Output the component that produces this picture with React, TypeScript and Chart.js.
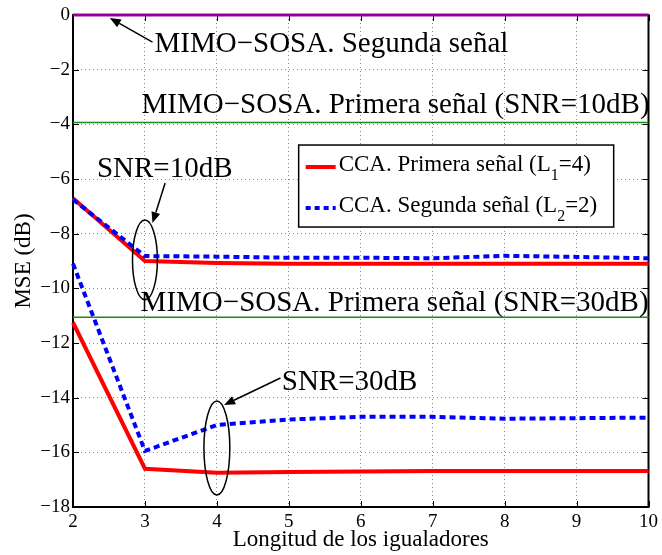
import React, { useEffect, useRef } from "react";
import { Chart, registerables } from "chart.js";

Chart.register(...registerables);

// Equalizer length (x) and MSE in dB (y)
const equalizerLengths = [2, 3, 4, 5, 6, 7, 8, 9, 10];
const ccaFirst10dB = [-6.7, -9.0, -9.07, -9.1, -9.1, -9.1, -9.1, -9.1, -9.1];
const ccaSecond10dB = [-6.75, -8.82, -8.84, -8.88, -8.88, -8.9, -8.81, -8.85, -8.9];
const ccaFirst30dB = [-11.25, -16.6, -16.75, -16.72, -16.7, -16.68, -16.68, -16.68, -16.68];
const ccaSecond30dB = [-9.1, -15.95, -15.0, -14.8, -14.7, -14.7, -14.77, -14.75, -14.73];
const mimoSosaSecond = 0;
const mimoSosaFirst10dB = -3.93;
const mimoSosaFirst30dB = -11.06;

const xTicks = [2, 3, 4, 5, 6, 7, 8, 9, 10];
const yTicks = [0, -2, -4, -6, -8, -10, -12, -14, -16, -18];

const legendLabels = [
  { main: "CCA. Primera señal (L", sub: "1", tail: "=4)" },
  { main: "CCA. Segunda señal (L", sub: "2", tail: "=2)" },
];

// Text notes, anchored at their left baseline in data units
const textNotes = [
  { text: "MIMO\u2212SOSA. Segunda señal", x: 3.133, y: -1.354 },
  { text: "MIMO\u2212SOSA. Primera señal (SNR=10dB)", x: 2.953, y: -3.586 },
  { text: "MIMO\u2212SOSA. Primera señal (SNR=30dB)", x: 2.94, y: -10.83 },
  { text: "SNR=10dB", x: 2.332, y: -5.93 },
  { text: "SNR=30dB", x: 4.902, y: -13.72 },
];

const arrows = [
  { x0: 3.105, y0: -0.99, x1: 2.511, y1: -0.11 },
  { x0: 3.281, y0: -6.15, x1: 3.105, y1: -7.61 },
  { x0: 4.884, y0: -13.28, x1: 4.1, y1: -14.27 },
];

const ellipses = [
  { x: 3, y: -8.96, rx: 0.173, ry: 1.46 },
  { x: 4, y: -15.84, rx: 0.18, ry: 1.72 },
];

// Legend box corners in data units
const legendBox = { x0: 5.137, y0: -4.757, x1: 9.516, y1: -7.757 };

const SERIF = '"Liberation Serif", "Times New Roman", serif';
const RED = "#ff0000";
const BLUE = "#0000ff";
const GREEN = "#1a8c1a";
const PURPLE = "#990099";

const toPoints = (ys: number[]) => equalizerLengths.map((x, i) => ({ x, y: ys[i] }));
const flat = (v: number) => equalizerLengths.map((x) => ({ x, y: v }));

const decorations = {
  id: "decorations",
  beforeDatasetsDraw(chart: any) {
    const { ctx, chartArea: a, scales } = chart;
    const xs = scales.x;
    const ys = scales.y;
    ctx.save();
    // inner tick marks
    ctx.strokeStyle = "#000";
    ctx.lineWidth = 1;
    const tl = 6;
    ctx.beginPath();
    xTicks.forEach((v) => {
      const px = Math.round(xs.getPixelForValue(v)) + 0.5;
      ctx.moveTo(px, a.bottom);
      ctx.lineTo(px, a.bottom - tl);
      ctx.moveTo(px, a.top);
      ctx.lineTo(px, a.top + tl);
    });
    yTicks.forEach((v) => {
      const py = Math.round(ys.getPixelForValue(v)) + 0.5;
      ctx.moveTo(a.left, py);
      ctx.lineTo(a.left + tl, py);
      ctx.moveTo(a.right, py);
      ctx.lineTo(a.right - tl, py);
    });
    ctx.stroke();
    // axes box
    ctx.lineWidth = 2;
    ctx.strokeRect(a.left, a.top, a.right - a.left, a.bottom - a.top);
    ctx.restore();
  },
  afterDatasetsDraw(chart: any) {
    const { ctx, scales } = chart;
    const xs = scales.x;
    const ys = scales.y;
    const X = (v: number) => xs.getPixelForValue(v);
    const Y = (v: number) => ys.getPixelForValue(v);
    ctx.save();
    ctx.fillStyle = "#000";
    ctx.strokeStyle = "#000";

    // ellipses
    ctx.lineWidth = 1.5;
    ellipses.forEach((e) => {
      const cx = X(e.x);
      const cy = Y(e.y);
      const rx = Math.abs(X(e.x + e.rx) - cx);
      const ry = Math.abs(Y(e.y + e.ry) - cy);
      ctx.beginPath();
      ctx.ellipse(cx, cy, rx, ry, 0, 0, Math.PI * 2);
      ctx.stroke();
    });

    // arrows
    arrows.forEach((ar) => {
      const x0 = X(ar.x0), y0 = Y(ar.y0), x1 = X(ar.x1), y1 = Y(ar.y1);
      const ang = Math.atan2(y1 - y0, x1 - x0);
      const hl = 11, hw = 4.5;
      const bx = x1 - hl * Math.cos(ang);
      const by = y1 - hl * Math.sin(ang);
      ctx.lineWidth = 1.5;
      ctx.beginPath();
      ctx.moveTo(x0, y0);
      ctx.lineTo(bx, by);
      ctx.stroke();
      ctx.beginPath();
      ctx.moveTo(x1, y1);
      ctx.lineTo(bx + hw * Math.sin(ang), by - hw * Math.cos(ang));
      ctx.lineTo(bx - hw * Math.sin(ang), by + hw * Math.cos(ang));
      ctx.closePath();
      ctx.fill();
    });

    // text notes
    ctx.font = `29px ${SERIF}`;
    ctx.textAlign = "left";
    ctx.textBaseline = "alphabetic";
    textNotes.forEach((t) => ctx.fillText(t.text, X(t.x), Y(t.y)));

    // legend
    const lx0 = X(legendBox.x0), ly0 = Y(legendBox.y0);
    const lx1 = X(legendBox.x1), ly1 = Y(legendBox.y1);
    ctx.fillStyle = "#fff";
    ctx.fillRect(lx0, ly0, lx1 - lx0, ly1 - ly0);
    ctx.strokeStyle = "#000";
    ctx.lineWidth = 1.5;
    ctx.strokeRect(lx0, ly0, lx1 - lx0, ly1 - ly0);
    const styles = [
      { color: RED, dash: [] as number[] },
      { color: BLUE, dash: [5, 4] },
    ];
    legendLabels.forEach((lab, i) => {
      const rowY = ly0 + 22 + i * 41;
      ctx.save();
      ctx.strokeStyle = styles[i].color;
      ctx.lineWidth = 4;
      ctx.setLineDash(styles[i].dash);
      ctx.beginPath();
      ctx.moveTo(lx0 + 7, rowY);
      ctx.lineTo(lx0 + 37, rowY);
      ctx.stroke();
      ctx.restore();
      ctx.fillStyle = "#000";
      let tx = lx0 + 40;
      const base = rowY + 4;
      ctx.font = `23px ${SERIF}`;
      ctx.fillText(lab.main, tx, base);
      tx += ctx.measureText(lab.main).width;
      ctx.font = `16px ${SERIF}`;
      ctx.fillText(lab.sub, tx, base + 9);
      tx += ctx.measureText(lab.sub).width;
      ctx.font = `23px ${SERIF}`;
      ctx.fillText(lab.tail, tx, base);
    });
    ctx.restore();
  },
};

export default function App() {
  const canvasRef = useRef<HTMLCanvasElement | null>(null);

  useEffect(() => {
    const canvas = canvasRef.current;
    if (!canvas) return;
    Chart.defaults.font.family = SERIF;
    Chart.defaults.color = "#000";

    const line = (data: any[], color: string, width: number, dash: number[] = []) => ({
      data,
      borderColor: color,
      backgroundColor: color,
      borderWidth: width,
      borderDash: dash,
      pointRadius: 0,
      tension: 0,
      fill: false,
      clip: false as any,
    });

    const chart = new Chart(canvas, {
      type: "line",
      data: {
        datasets: [
          line(toPoints(ccaSecond10dB), BLUE, 4, [6, 4]),
          line(toPoints(ccaFirst10dB), RED, 4),
          line(toPoints(ccaSecond30dB), BLUE, 4, [6, 4]),
          line(toPoints(ccaFirst30dB), RED, 4),
          line(flat(mimoSosaFirst10dB), GREEN, 1.5),
          line(flat(mimoSosaFirst30dB), GREEN, 1.5),
          line(flat(mimoSosaSecond), PURPLE, 3),
        ],
      },
      options: {
        responsive: false,
        animation: false,
        devicePixelRatio: 1,
        layout: { padding: { left: 0, right: 10, top: 15, bottom: 0 } },
        plugins: {
          legend: { display: false },
          tooltip: { enabled: false },
        },
        scales: {
          x: {
            type: "linear",
            min: 2,
            max: 10,
            afterBuildTicks: (s: any) => {
              s.ticks = xTicks.map((value) => ({ value }));
            },
            afterFit: (s: any) => {
              s.height = 48;
            },
            grid: { color: "#8a8a8a", lineWidth: 1, drawTicks: false },
            border: { display: false, dash: [1, 3] },
            ticks: {
              font: { size: 19 },
              color: "#000",
              padding: 4,
              maxRotation: 0,
              callback: (v: any) => String(v),
            },
            title: {
              display: true,
              text: "Longitud de los igualadores",
              font: { size: 23 },
              color: "#000",
              padding: { top: 0, bottom: 1 },
            },
          },
          y: {
            type: "linear",
            min: -18,
            max: 0,
            afterBuildTicks: (s: any) => {
              s.ticks = yTicks.map((value) => ({ value }));
            },
            afterFit: (s: any) => {
              s.width = 73;
            },
            grid: { color: "#8a8a8a", lineWidth: 1, drawTicks: false },
            border: { display: false, dash: [1, 3] },
            ticks: {
              font: { size: 19 },
              color: "#000",
              padding: 3,
              callback: (v: any) => String(v).replace("-", "\u2212"),
            },
            title: {
              display: true,
              text: "MSE (dB)",
              font: { size: 23 },
              color: "#000",
              padding: { top: 10, bottom: 0 },
            },
          },
        },
      },
      plugins: [decorations],
    });

    return () => chart.destroy();
  }, []);

  return (
    <div style={{ position: "absolute", left: 0, top: 0, width: 662, height: 555, background: "#fff" }}>
      <canvas ref={canvasRef} width={662} height={555} />
    </div>
  );
}
